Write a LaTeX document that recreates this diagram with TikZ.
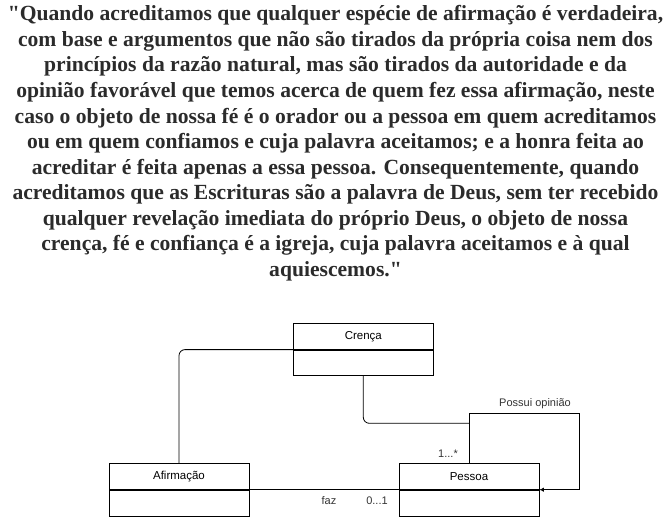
\documentclass[tikz,border=0pt]{standalone}
\usepackage{fontspec}
\setmainfont{Liberation Serif}
\newfontfamily\quotefont{Liberation Serif}
\newfontfamily\diafont{Liberation Sans}
\usetikzlibrary{positioning,arrows.meta}
\definecolor{quotecol}{HTML}{2B2B2B}
\definecolor{labcol}{HTML}{333333}
\begin{document}
\begin{tikzpicture}[x=1pt,y=-1pt,
  qline/.style={anchor=base,inner sep=0pt,text=quotecol,font=\quotefont\bfseries\fontsize{21.6}{25}\selectfont},
  hdr/.style={draw,line width=0.8pt,minimum width=140pt,minimum height=25.8pt,inner sep=0pt,font=\diafont\fontsize{11.5}{13}\selectfont},
  bodybox/.style={draw,line width=0.8pt,minimum width=140pt,minimum height=25.8pt,inner sep=0pt},
  conn/.style={line width=0.8pt},
  lab/.style={inner sep=0pt,text=labcol,font=\diafont\fontsize{11}{13}\selectfont}]
\useasboundingbox (0,0) rectangle (671,516);
% quote
\node[qline] (l1) at (335.5,21) {"Quando acreditamos que qualquer espécie de afirmação é verdadeira,};
\node[qline] (l2) at (335.5,46.5) {com base e argumentos que não são tirados da própria coisa nem dos};
\node[qline] (l3) at (335.5,72) {princípios da razão natural, mas são tirados da autoridade e da};
\node[qline] (l4) at (335.5,97.5) {opinião favorável que temos acerca de quem fez essa afirmação, neste};
\node[qline] (l5) at (335.5,123) {caso o objeto de nossa fé é o orador ou a pessoa em quem acreditamos};
\node[qline] (l6) at (335.5,148.5) {ou em quem confiamos e cuja palavra aceitamos; e a honra feita ao};
\node[qline] (l7) at (335.5,174) {acreditar é feita apenas a essa pessoa. Consequentemente, quando};
\node[qline] (l8) at (335.5,199.5) {acreditamos que as Escrituras são a palavra de Deus, sem ter recebido};
\node[qline] (l9) at (335.5,225) {qualquer revelação imediata do próprio Deus, o objeto de nossa};
\node[qline] (l10) at (335.5,250.5) {crença, fé e confiança é a igreja, cuja palavra aceitamos e à qual};
\node[qline] (l11) at (335.5,276) {aquiescemos."};
% boxes
\node[hdr] (cre) at (363.3,336.3) {Crença};
\node[bodybox,below=0pt of cre] (creb) {};
\node[hdr] (afi) at (179,476.4) {Afirmação};
\node[bodybox,below=0pt of afi] (afib) {};
\node[hdr] (pes) at (469,476.4) {Pessoa};
\node[bodybox,below=0pt of pes] (pesb) {};
% connectors
\coordinate (lp1) at (469,413.3);
\coordinate (lp2) at (579,413.3);
\coordinate (mid) at (469,423.3);
\draw[conn,rounded corners=6pt] (cre.south west) -| (afi.north);
\draw[conn] (afi.south east) -- (pes.south west);
\draw[conn,-{Latex[length=4.5pt,width=4.5pt]}] (pes.north) -- (lp1) -- (lp2) |- (pes.south east);
\draw[conn,rounded corners=6pt] (creb.south) |- (mid);
% labels
\node[lab] (t1) at (448,454) {1...*};
\node[lab] (t2) at (535,404) {Possui opinião};
\node[lab] (t3) at (329,501) {faz};
\node[lab] (t4) at (377,501) {0...1};
\end{tikzpicture}
\end{document}
